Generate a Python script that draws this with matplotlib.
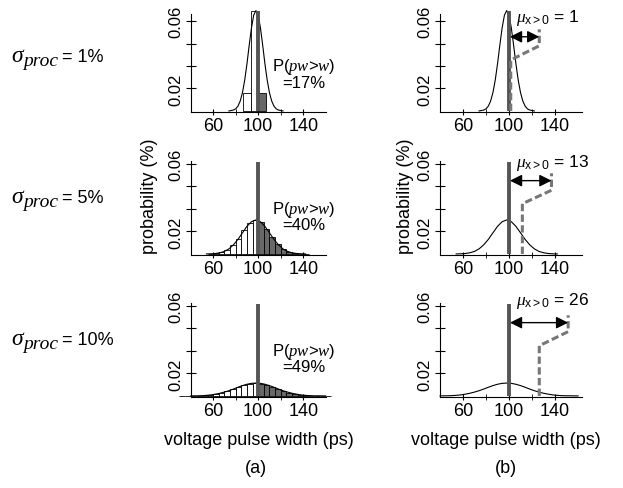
import matplotlib
matplotlib.use('Agg')
import matplotlib.pyplot as plt
import numpy as np

plt.rcParams['font.family'] = ['Liberation Sans', 'DejaVu Sans']
plt.rcParams['mathtext.fontset'] = 'custom'
plt.rcParams['mathtext.rm'] = 'Liberation Sans'
plt.rcParams['mathtext.sf'] = 'Liberation Sans'
plt.rcParams['mathtext.it'] = 'Liberation Serif:italic'

# ---------------- data ----------------
sigma_labels = ['1%', '5%', '10%']
p_labels = ['17%', '40%', '49%']
mu_labels = ['1', '13', '26']
threshold = 100

# gaussian curves (probability vs pulse width)
curve1_x = [74, 78, 80, 82, 84, 86, 88, 90, 92, 94, 96, 98, 100, 102, 104, 106, 108, 110, 112, 114, 116, 118, 122]
curve1_y = [0, 0.0006, 0.0014, 0.0032, 0.0066, 0.0122, 0.0205, 0.0314, 0.0438, 0.0554, 0.0639, 0.067,
            0.0639, 0.0554, 0.0438, 0.0314, 0.0205, 0.0122, 0.0066, 0.0032, 0.0014, 0.0006, 0]
curve2_x = [54, 58, 62, 66, 70, 74, 78, 82, 86, 90, 94, 98, 102, 106, 110, 114, 118, 122, 126, 130, 134, 138, 142]
curve2_y = [0, 0.0001, 0.0003, 0.0008, 0.0017, 0.0034, 0.0061, 0.0097, 0.0141, 0.0184, 0.0215, 0.0227,
            0.0215, 0.0184, 0.0141, 0.0097, 0.0061, 0.0034, 0.0017, 0.0008, 0.0003, 0.0001, 0]
curve3_x = [40, 42, 46, 50, 54, 58, 62, 66, 70, 74, 78, 82, 86, 90, 94, 98, 102, 106, 110, 114, 118, 122,
            126, 130, 134, 138, 142, 146, 150, 154, 160]
curve3_y = [0, 0.0001, 0.0001, 0.0002, 0.0004, 0.0007, 0.0012, 0.0018, 0.0026, 0.0035, 0.0046, 0.0058,
            0.0069, 0.0078, 0.0084, 0.0086, 0.0084, 0.0078, 0.0069, 0.0058, 0.0046, 0.0035, 0.0026,
            0.0018, 0.0012, 0.0007, 0.0004, 0.0002, 0.0001, 0.0001, 0]

# histograms (bin edges + heights)
hist1_edges = [86.7, 93.3, 100, 106.7]
hist1_vals = [0.012, 0.067, 0.012]
hist2_edges = list(range(55, 150, 5))
hist2_vals = [0.0001, 0.0004, 0.0010, 0.0026, 0.0057, 0.0103, 0.0158, 0.0205, 0.0227,
              0.0212, 0.0168, 0.0113, 0.0065, 0.0031, 0.0013, 0.0004, 0.0001, 0.0]
hist3_edges = list(range(30, 170, 5))
hist3_vals = [0.0, 0.0, 0.0001, 0.0002, 0.0004, 0.0007, 0.0012, 0.0020, 0.0032, 0.0045, 0.0059,
              0.0073, 0.0082, 0.0086, 0.0083, 0.0075, 0.0062, 0.0048, 0.0034, 0.0022, 0.0014,
              0.0008, 0.0004, 0.0002, 0.0001, 0.0, 0.0]

# dashed step curves in (b): x points and y points
step_x = [[101.5, 101.5, 126.3, 126.3], [111.6, 111.6, 136.9, 136.9], [126.3, 126.3, 151.4, 151.4]]
step_y = [[0, 0.0340, 0.0435, 0.0545], [0, 0.0335, 0.0425, 0.0538], [0, 0.0335, 0.0429, 0.0538]]
arrow_y = [0.0495, 0.0489, 0.0489]

curves = [(curve1_x, curve1_y), (curve2_x, curve2_y), (curve3_x, curve3_y)]
hists = [(hist1_edges, hist1_vals), (hist2_edges, hist2_vals), (hist3_edges, hist3_vals)]
line_tops = [0.067, 0.0615, 0.0615]
ytops = [0.0647, 0.062, 0.062]

# ---------------- figure ----------------
W, H = 623, 489
fig = plt.figure(figsize=(W / 100, H / 100), dpi=100)


def box(x0, x1, y_top, y_bot):
    return [x0 / W, 1 - y_bot / H, (x1 - x0) / W, (y_bot - y_top) / H]


row_bottoms = [113, 256, 398]
row_tops = [15, 162, 304]
DARK = '#555555'
DASH = '#777777'


def style_axes(ax, xmax, ytop):
    ax.set_xlim(40, xmax)
    ax.set_ylim(-0.0007, ytop)
    for s in ['top', 'right']:
        ax.spines[s].set_visible(False)
    ax.set_xticks([60, 100, 140])
    ax.set_xticks([80, 120], minor=True)
    ax.set_yticks([0.015, 0.03, 0.045, 0.06])
    ax.set_yticklabels(['0.02', '', '', '0.06'], rotation=90, va='center', fontsize=12)
    ax.tick_params(axis='x', which='both', direction='inout', length=5, labelsize=13, pad=1)
    ax.tick_params(axis='y', direction='inout', length=7, pad=2)


for i in range(3):
    # ---- column (a) ----
    ax = fig.add_axes(box(190.7, 325.7, row_tops[i], row_bottoms[i]))
    style_axes(ax, 160, ytops[i])
    edges, vals = hists[i]
    edges = np.array(edges, dtype=float)
    cols = ['white' if e < threshold else '#686868' for e in edges[:-1]]
    ax.bar(edges[:-1], vals, width=np.diff(edges), align='edge', color=cols,
           edgecolor='black', linewidth=0.6, clip_on=False, zorder=2)
    ax.plot(curves[i][0], curves[i][1], color='black', lw=0.8, clip_on=False, zorder=3)
    ax.plot([threshold, threshold], [0, line_tops[i]], color=DARK, lw=2.8,
            solid_capstyle='butt', clip_on=False, zorder=4)

    # ---- column (b) ----
    bx = fig.add_axes(box(440, 581.5, row_tops[i], row_bottoms[i]))
    style_axes(bx, 163, ytops[i])
    bx.plot(curves[i][0], curves[i][1], color='black', lw=0.8, clip_on=False, zorder=3)
    bx.plot([threshold, threshold], [0, line_tops[i] - 0.0005 * (i == 0)], color=DARK, lw=2.8,
            solid_capstyle='butt', clip_on=False, zorder=4)
    bx.plot(step_x[i], step_y[i], color=DASH, lw=2.2, ls=(0, (2.4, 1.1)),
            dash_capstyle='butt', clip_on=False, zorder=4)
    bx.annotate('', xy=(step_x[i][-1], arrow_y[i]), xytext=(threshold + 0.8, arrow_y[i]),
                arrowprops=dict(arrowstyle='<|-|>,head_length=0.6,head_width=0.3',
                                color='black', lw=1, shrinkA=0, shrinkB=0,
                                mutation_scale=12), zorder=5)

# ---------------- text ----------------
def ftext(x, y, s, **kw):
    fig.text(x / W, 1 - y / H, s, **kw)


for i, yb in enumerate([62, 203, 345]):
    ftext(11, yb, '\u03c3', fontsize=17, family='Liberation Serif', style='italic',
          va='baseline', ha='left')
    ftext(23, yb + 4, 'proc', fontsize=14, family='Liberation Serif', style='italic',
          va='baseline', ha='left')
    ftext(62, yb, '= ' + sigma_labels[i], fontsize=13, va='baseline', ha='left')

for i, yb in enumerate(row_bottoms):
    ftext(304, yb - 46, r'P($pw$>$w$)', fontsize=12, ha='center', va='center')
    ftext(304, yb - 30, '=' + p_labels[i], fontsize=12, ha='center', va='center')

for i, yb in enumerate([21.7, 167.3, 305]):
    ftext(516, yb, r'$\mu_{\mathrm{x>0}}$ = ' + mu_labels[i], fontsize=12.5, ha='left',
          va='baseline')

ftext(150, 196, 'probability (%)', fontsize=13, rotation=90, ha='center', va='center')
ftext(405, 196, 'probability (%)', fontsize=13, rotation=90, ha='center', va='center')
ftext(259, 441, 'voltage pulse width (ps)', fontsize=13, ha='center', va='center')
ftext(506, 441, 'voltage pulse width (ps)', fontsize=13, ha='center', va='center')
ftext(256, 469, '(a)', fontsize=13, ha='center', va='center')
ftext(506, 469, '(b)', fontsize=13, ha='center', va='center')

fig.savefig('out.png', dpi=100)
